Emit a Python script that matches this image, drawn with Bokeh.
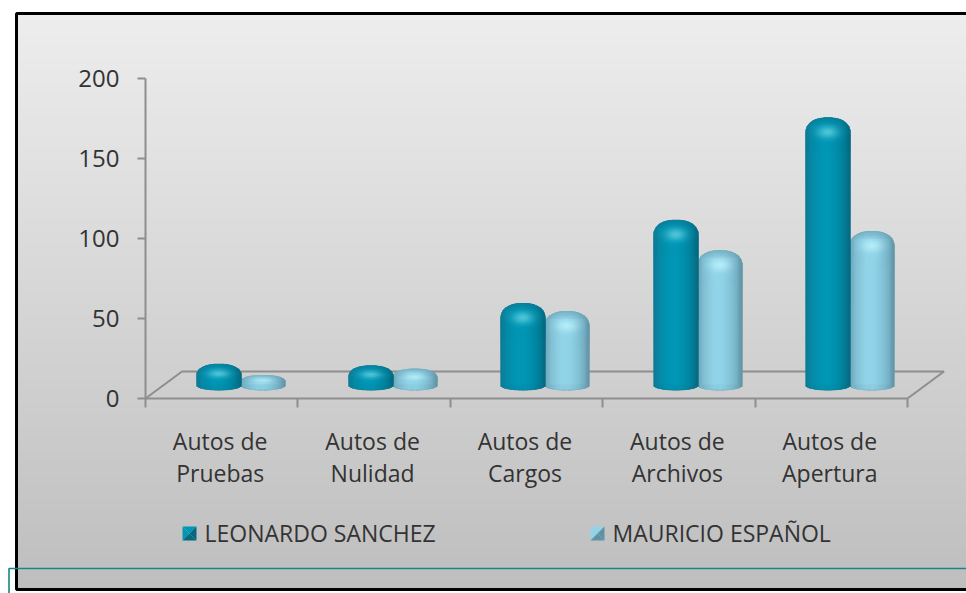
import numpy as np
from bokeh.plotting import figure, ColumnDataSource
from bokeh.models import LinearAxis, FixedTicker, Range1d, Label
from bokeh.embed import file_html
from bokeh.resources import INLINE

categories = ["Autos de\nPruebas", "Autos de\nNulidad", "Autos de\nCargos", "Autos de\nArchivos", "Autos de\nApertura"]
leonardo = [8, 7, 46, 98, 162]
mauricio = [1, 5, 41, 79, 91]
series_names = ["LEONARDO SANCHEZ", "MAURICIO ESPAÑOL"]
y_ticks = [0, 50, 100, 150, 200]

W, H = 966, 593
OX, OY = 0, 0
X0, XS = 145.0, 152.4
Y0, YS = 398.0, 1.6
FONT = "Open Sans"
TXT = "#333333"
AX = "#8e8e8e"


def dx(px):
    return (px - X0) / XS


def dy(py):
    return (Y0 - py) / YS


p = figure(width=W, height=H, output_backend="svg", toolbar_location=None,
           x_axis_location=None, y_axis_location=None,
           x_range=Range1d(dx(OX), dx(OX + W)), y_range=Range1d(dy(OY + H), dy(OY)),
           min_border=0, outline_line_color=None, background_fill_color="white",
           border_fill_color="white")
p.grid.visible = False


def mix(a, b, t):
    t = float(np.clip(t, 0, 1))
    return tuple(a[i] + (b[i] - a[i]) * t for i in range(3))


def hexc(c):
    return "#%02x%02x%02x" % tuple(int(round(v)) for v in c)


# panel background
L, R, T, B = 17, 966, 14, 588
rows = np.arange(T, B, 4)
bg = [hexc(mix((237, 237, 237), (190, 190, 190), (y - T) / (B - T))) for y in rows]
p.quad(left=dx(L), right=dx(R + 4), top=dy(rows), bottom=dy(rows + 4.5), fill_color=bg, line_color=None)

# panel frame
p.line(x=[dx(R + 4), dx(L - 1), dx(L - 1), dx(R + 4)], y=[dy(T - 1)] * 2 + [dy(B + 1)] * 2, line_color="black", line_width=3)

# floor
depth_x, depth_y = 36.5 / XS, 27 / YS
p.line(x=[0, depth_x, 5 + depth_x, 5], y=[0, depth_y, depth_y, 0], line_color=AX, line_width=2)

# cylinders
BAR_W = 45 / XS
SHIFT = 19 / XS
BASE = dy(384)
DARK = dict(edgeL=(15, 122, 148), mid=(0, 150, 181), edgeR=(5, 104, 126), hi=(110, 215, 230), face=(12, 118, 142))
LIGHT = dict(edgeL=(108, 162, 182), mid=(145, 212, 232), edgeR=(96, 146, 166), hi=(195, 245, 255), face=(104, 158, 176))


def body_col(pal, u):
    if u < -0.05:
        return mix(pal["edgeL"], pal["mid"], min(1, (u + 1) / 0.75) ** 0.7)
    return mix(pal["mid"], pal["edgeR"], ((u + 0.05) / 1.05) ** 1.8)


def cylinder(cx, value, pal):
    px_l = round((cx - BAR_W / 2) * XS + X0)
    sil_t = Y0 - (BASE + value) * YS - 8
    sil_b = 390.0
    h = sil_b - sil_t
    cap = min(16.0, h * 0.45)
    foot = 5.0
    pw = 2.3
    lf, rt, tp, bt, col = [], [], [], [], []
    outline_top, outline_bot = [], []
    n = 45
    for i in range(n):
        u = -1 + (i + 0.5) * 2 / n
        a = px_l + i
        s_t = sil_t + cap * (1 - (1 - abs(u) ** pw) ** (1 / pw))
        s_b = sil_b - foot * (1 - np.sqrt(1 - u * u))
        outline_top.append((a + 0.5, s_t))
        outline_bot.append((a + 0.5, s_b))
        base = body_col(pal, u)
        shade_to = min(sil_t + 34, s_b)
        y = float(np.ceil(s_t))
        scale = min(1.0, h / 40)
        while y < shade_to:
            y2 = min(y + 2, np.floor(s_b))
            if y2 <= y:
                break
            t = (y + y2) / 2 - sil_t
            c = mix(base, pal["hi"], 0.8 * np.exp(-(u / 0.45) ** 2 - ((t - 15 * scale) / (6 * scale)) ** 2))
            if t < 8 * scale and abs(u) < 0.9:
                c = mix(c, pal["face"], 0.6 * (1 - t / (8 * scale)))
            lf.append(a); rt.append(a + 1); tp.append(y); bt.append(y2); col.append(hexc(c))
            y = y2
        if y < np.floor(s_b):
            lf.append(a); rt.append(a + 1); tp.append(y); bt.append(np.floor(s_b)); col.append(hexc(base))
    # antialiased silhouette below the shading cells
    ox = [px_l] + [q[0] for q in outline_top] + [px_l + n] + [q[0] for q in reversed(outline_bot)]
    oy = [sil_t + cap] + [q[1] for q in outline_top] + [sil_t + cap] + [q[1] for q in reversed(outline_bot)]
    p.patch(x=[dx(v) for v in ox], y=[dy(v) for v in oy], fill_color=hexc(pal["face"]), line_color=None)
    p.vbar(x=cx, width=BAR_W * 0.8, bottom=BASE, top=BASE + value, fill_color=hexc(pal["mid"]), line_color=None)
    src = ColumnDataSource(dict(l=[dx(v) for v in lf], r=[dx(v) for v in rt],
                                t=[dy(v) for v in tp], b=[dy(v) for v in bt], c=col))
    p.quad(left="l", right="r", top="t", bottom="b", fill_color="c", line_color="c", line_width=0.3, source=src)


for i in range(len(categories)):
    center = i + 0.5 + SHIFT
    cylinder(center + BAR_W / 2 - 0.5 / XS, mauricio[i], LIGHT)
    cylinder(center - BAR_W / 2 + 0.5 / XS, leonardo[i], DARK)

# axes
yax = LinearAxis(fixed_location=0, bounds=(0, 200), ticker=FixedTicker(ticks=y_ticks))
yax.axis_line_color = AX
yax.axis_line_width = 2
yax.major_tick_line_color = AX
yax.major_tick_line_width = 2
yax.major_tick_out = 8
yax.major_tick_in = 0
yax.minor_tick_line_color = None
yax.major_label_standoff = 18
yax.major_label_text_font = FONT
yax.major_label_text_font_size = "24px"
yax.major_label_text_color = TXT
p.add_layout(yax, "left")

xt = LinearAxis(fixed_location=0, bounds=(0, 5), ticker=FixedTicker(ticks=list(range(6))))
xt.axis_line_color = AX
xt.axis_line_width = 2
xt.major_tick_line_color = AX
xt.major_tick_line_width = 2
xt.major_tick_out = 9
xt.major_tick_in = 0
xt.minor_tick_line_color = None
xt.major_label_text_color = None
xt.major_label_text_font_size = "1px"
xt.major_label_overrides = {k: " " for k in range(6)}
p.add_layout(xt, "below")

label_ticks = [i + 0.49 for i in range(5)]
xl = LinearAxis(fixed_location=0, ticker=FixedTicker(ticks=label_ticks))
xl.axis_line_color = None
xl.major_tick_line_color = None
xl.minor_tick_line_color = None
xl.major_tick_out = 0
xl.major_tick_in = 0
xl.major_label_standoff = 26
xl.major_label_overrides = {k: c for k, c in zip(label_ticks, categories)}
xl.major_label_text_font = FONT
xl.major_label_text_font_size = "23px"
xl.major_label_text_line_height = 1.03
xl.major_label_text_color = TXT
p.add_layout(xl, "below")

# legend
swatches = [(182, DARK), (590, LIGHT)]
text_x = [204, 612]
for (sx, pal), tx, name in zip(swatches, text_x, series_names):
    s = 14
    cx_, cy_ = sx + s / 2, 533
    x1, x2, y1, y2 = sx, sx + s, cy_ - s / 2, cy_ + s / 2
    faces = [([x1, x2, cx_], [y1, y1, cy_], pal["mid"]),
             ([x1, x1, cx_], [y1, y2, cy_], pal["mid"]),
             ([x2, x2, cx_], [y1, y2, cy_], pal["edgeR"]),
             ([x1, x2, cx_], [y2, y2, cy_], pal["edgeR"])]
    p.patches(xs=[[dx(v) for v in f[0]] for f in faces], ys=[[dy(v) for v in f[1]] for f in faces],
              fill_color=[hexc(f[2]) for f in faces], line_color=None)
    p.add_layout(Label(x=dx(tx), y=dy(532), text=name, text_font=FONT, text_font_size="23px",
                       text_color=TXT, text_baseline="middle", text_align="left"))

# teal overlay line
p.line(x=[dx(8.5), dx(8.5), dx(970)], y=[dy(600), dy(568), dy(568)], line_color="#14877f", line_width=1.6)

open("out.html", "w").write(file_html(p, INLINE))
